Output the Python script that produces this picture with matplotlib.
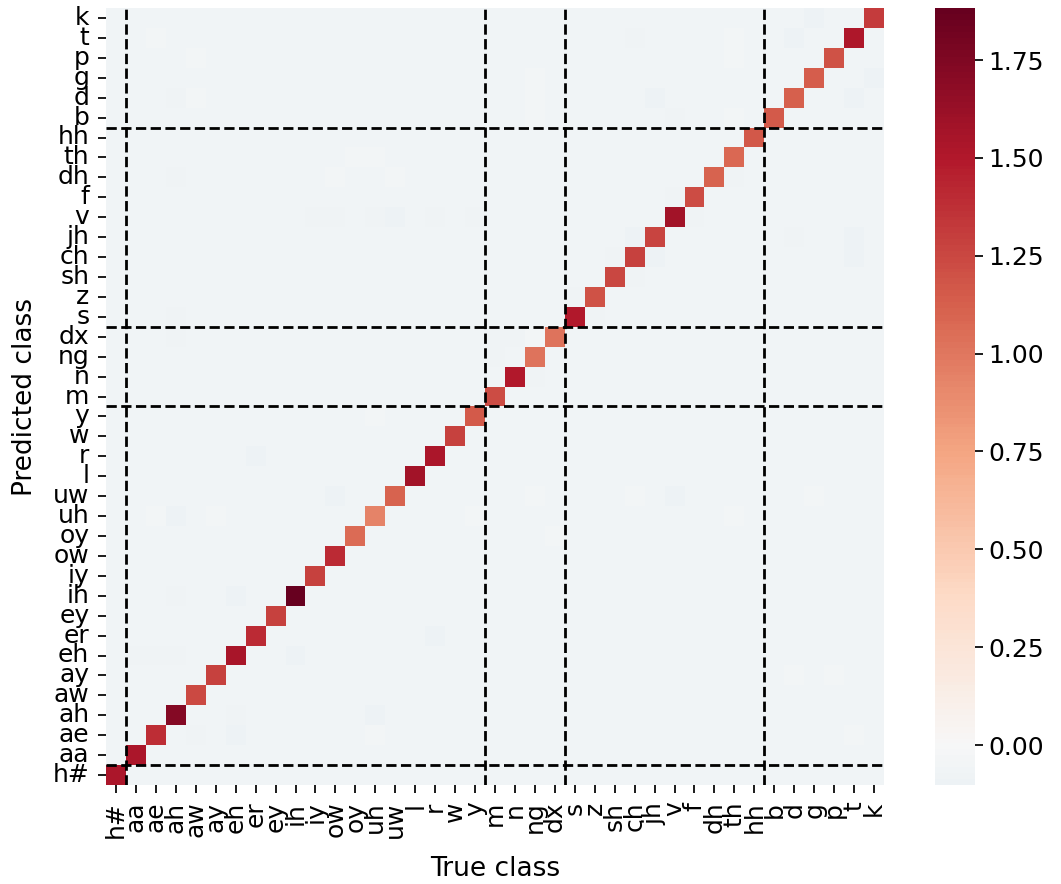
import numpy as np
import matplotlib
matplotlib.use('Agg')
import matplotlib.pyplot as plt
import seaborn as sns

phones = ['h#', 'aa', 'ae', 'ah', 'aw', 'ay', 'eh', 'er', 'ey', 'ih', 'iy', 'ow',
          'oy', 'uh', 'uw', 'l', 'r', 'w', 'y', 'm', 'n', 'ng', 'dx', 's', 'z',
          'sh', 'ch', 'jh', 'v', 'f', 'dh', 'th', 'hh', 'b', 'd', 'g', 'p', 't', 'k']

# diagonal (correct class) scores, same order as phones
diag_scores = [1.54, 1.54, 1.39, 1.73, 1.24, 1.28, 1.55, 1.40, 1.28, 1.883,
               1.28, 1.40, 1.07, 0.93, 1.10, 1.58, 1.53, 1.28, 1.15,
               1.22, 1.50, 1.03, 1.03,
               1.50, 1.20, 1.25, 1.28, 1.27, 1.58, 1.22, 1.10, 1.08, 1.17,
               1.15, 1.13, 1.14, 1.20, 1.52, 1.32]

# most off-diagonal cells sit at this level
off_diag_level = -0.06

# (true, predicted, score) for off-diagonal cells that stand out
off_diag_cells = [
    ('ah', 'uh', -0.10), ('er', 'r', -0.10), ('eh', 'ih', -0.10), ('ah', 'ih', -0.08),
    ('aa', 'eh', -0.08), ('ae', 'eh', -0.08), ('ah', 'eh', -0.08), ('ih', 'eh', -0.10),
    ('eh', 'ae', -0.09), ('eh', 'ah', -0.08), ('aw', 'ae', -0.08), ('uh', 'ah', -0.09),
    ('r', 'er', -0.09), ('ow', 'uw', -0.09),
    ('ae', 'uh', -0.04), ('ay', 'uh', -0.04), ('uh', 'y', -0.04), ('y', 'uh', -0.045),
    ('uh', 'ae', -0.045),
    ('g', 'k', -0.102), ('d', 't', -0.09), ('k', 'g', -0.09), ('t', 'd', -0.09),
    ('jh', 'd', -0.09), ('ch', 't', -0.08), ('v', 'b', -0.08), ('ng', 'g', -0.045),
    ('ng', 'd', -0.045), ('ng', 'b', -0.045), ('th', 't', -0.045), ('th', 'p', -0.045),
    ('th', 'b', -0.045), ('t', 'jh', -0.09), ('t', 'ch', -0.09), ('d', 'jh', -0.08),
    ('ch', 'jh', -0.09), ('jh', 'ch', -0.09), ('f', 'v', -0.08), ('v', 'f', -0.08),
    ('th', 'dh', -0.08), ('m', 'dx', -0.08), ('n', 'dx', -0.08), ('ng', 'dx', -0.045),
    ('m', 'ng', -0.08), ('ng', 'n', -0.08), ('z', 's', -0.08), ('s', 'z', -0.08),
    ('ch', 'sh', -0.08), ('sh', 'ch', -0.08),
    ('ae', 't', -0.045), ('aw', 'p', -0.045), ('ah', 'd', -0.08), ('aw', 'd', -0.045),
    ('eh', 'd', -0.07), ('uw', 'd', -0.07), ('ah', 'dh', -0.08), ('iy', 'v', -0.08),
    ('ow', 'v', -0.08), ('uh', 'v', -0.08), ('uw', 'v', -0.10), ('r', 'v', -0.08),
    ('y', 'v', -0.08), ('ah', 's', -0.08), ('ah', 'dx', -0.08), ('oy', 'th', -0.045),
    ('uh', 'th', -0.045), ('ow', 'dh', -0.045), ('uw', 'dh', -0.045),
    ('v', 'uw', -0.09), ('v', 'r', -0.07), ('v', 'y', -0.07), ('n', 'l', -0.07),
    ('ng', 'uw', -0.045), ('dx', 'oy', -0.045), ('ch', 'uw', -0.045), ('th', 'uh', -0.045),
    ('g', 'uw', -0.045), ('d', 'r', -0.07), ('p', 'r', -0.07), ('t', 'r', -0.07),
    ('d', 'ih', -0.07), ('g', 'ih', -0.07), ('t', 'ih', -0.07), ('k', 'ih', -0.07),
    ('d', 'ay', -0.045), ('p', 'ay', -0.045), ('t', 'ae', -0.045), ('dx', 'ah', -0.07),
    ('s', 'ah', -0.07),
]

# class group boundaries: silence | vowels & glides | nasals | fricatives | stops
group_edges = [1, 19, 23, 33]

idx = {p: i for i, p in enumerate(phones)}
n = len(phones)
conf = np.full((n, n), off_diag_level)
conf[np.arange(n), np.arange(n)] = diag_scores
for true_c, pred_c, val in off_diag_cells:
    conf[idx[pred_c], idx[true_c]] = val

sns.set_context('notebook', font_scale=1.5)
plt.rcParams['xtick.labelsize'] = 18
plt.rcParams['ytick.labelsize'] = 18
plt.rcParams['axes.labelsize'] = 19

fig = plt.figure(figsize=(10.61, 8.84), dpi=100)
ax = fig.add_axes([106 / 1061, 99 / 884, 778 / 1061, 777 / 884])
cax = fig.add_axes([935 / 1061, 99 / 884, 40 / 1061, 777 / 884])

sns.heatmap(conf, cmap='RdBu_r', center=0, xticklabels=phones, yticklabels=phones,
            ax=ax, cbar_ax=cax)
ax.invert_yaxis()
ax.set_xticklabels(phones, rotation=90)
ax.set_yticklabels(phones, rotation=0)
ax.tick_params(axis='both', pad=6)

for e in group_edges:
    ax.axvline(e, color='black', linestyle='--', linewidth=2)
    ax.axhline(e, color='black', linestyle='--', linewidth=2)

ax.set_xlabel('True class')
ax.set_ylabel('Predicted class')
ax.xaxis.set_label_coords(0.5, -0.092)
ax.yaxis.set_label_coords(-0.088, 0.5)

plt.savefig('out.png', dpi=100)
